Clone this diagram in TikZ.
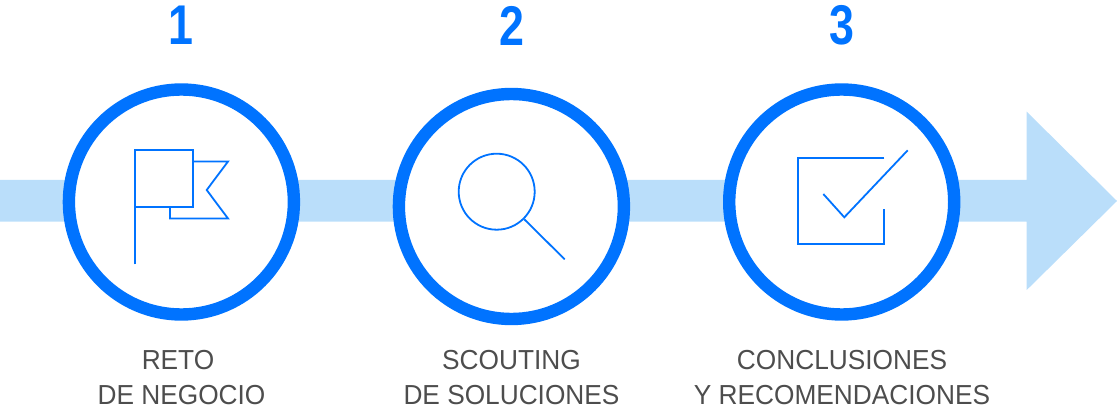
\documentclass[tikz,border=0pt]{standalone}
\usepackage{fontspec}
\setmainfont{Liberation Sans}
\newfontfamily\digitfont[FakeStretch=.8]{Liberation Sans}
\newfontfamily\captionfont[FakeStretch=.955]{Liberation Sans}
\usepackage{tikz}
\definecolor{ringblue}{RGB}{0,115,255}
\definecolor{bandblue}{RGB}{186,222,250}
\definecolor{captiongray}{RGB}{77,77,77}
\begin{document}
\begin{tikzpicture}[x=1pt,y=-1pt]
% size of each ring
\def\sz{225pt}
% node style definition
\tikzstyle{ring} = [
	draw=ringblue, fill=white, circle, line width=12.4pt, inner sep=0pt,
	minimum size=\sz ];
\tikzstyle{digit} = [text=ringblue, inner sep=0pt,
	font=\digitfont\bfseries\fontsize{56}{56}\selectfont];
\tikzstyle{caption} = [text=captiongray, align=center, inner sep=0pt, anchor=base,
	font=\captionfont\fontsize{27.5}{35}\selectfont];
\tikzstyle{icon} = [draw=ringblue, line width=1.8pt, miter limit=10];
\useasboundingbox (0,0) rectangle (1117,414);
% band and arrow head
\fill[bandblue] (0,180) -- (1026.7,180) -- (1026.7,111.7) -- (1117,201)
	-- (1026.7,290) -- (1026.7,221.7) -- (0,221.7) -- cycle;
% rings
\node[ring] (ring1) at (181.4,202) {};
\node[ring] (ring2) at (511.4,206.5) {};
\node[ring] (ring3) at (841.7,202) {};
% numbers
\node[digit] (num1) at (180.5,25.5) {1};
\node[digit] (num2) at (511.8,25.5) {2};
\node[digit] (num3) at (841.5,25.5) {3};
% captions
\node[caption] (cap1) at (181.5,404.5) {RETO\hspace*{7pt}\\DE NEGOCIO};
\node[caption] (cap2) at (511.5,404.5) {SCOUTING\\DE SOLUCIONES};
\node[caption] (cap3) at (842,404.5) {CONCLUSIONES\\Y RECOMENDACIONES};
% flag
\draw[icon] (135.3,264.3) -- (135.3,150) -- (192.7,150) -- (192.7,206.7) -- (135.3,206.7);
\draw[icon] (192.7,161.5) -- (228,161.5) -- (206.7,190) -- (228,218.5) -- (170,218.5) -- (170,206.7);
% magnifier
\draw[icon] (496.7,191.7) circle (38);
\draw[icon] (524.3,219.3) -- (564.7,259.3);
% checked box
\draw[icon] (884.3,158.3) -- (798,158.3) -- (798,244) -- (883.7,244) -- (883.7,208.7);
\draw[icon] (823.3,194) -- (844.3,217.3) -- (907.7,150.3);
\end{tikzpicture}
\end{document}
